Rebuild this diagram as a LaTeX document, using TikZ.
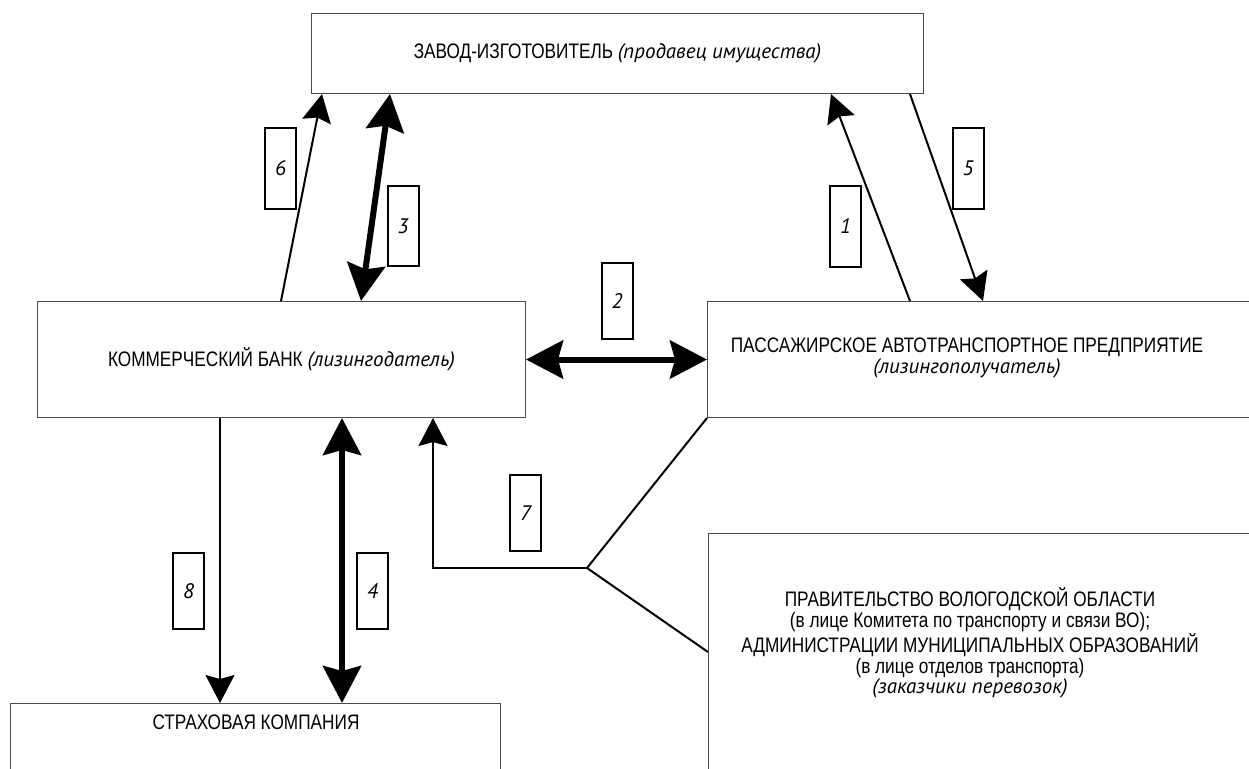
\documentclass[tikz,border=0pt]{standalone}
\usepackage{fontspec}
\setmainfont{Liberation Sans}[FakeStretch=0.82]
\newfontfamily\itfont{PT Sans}[FakeStretch=1.0]
\newcommand\itx[1]{{\itfont\itshape #1}}
\usetikzlibrary{arrows.meta,calc}
\tikzset{
  x=0.5pt, y=-0.5pt,
  box/.style={draw=black!70, line width=0.5pt, fill=white, inner sep=0pt, anchor=north west},
  numbox/.style={draw=black, line width=1pt, minimum width=15.5pt, inner sep=0pt, font=\itfont\itshape\fontsize{10.5}{12}\selectfont},
  lbl/.style={align=center, font=\fontsize{10.5}{10.25}\selectfont, inner sep=0pt},
  conthin/.style={line width=1pt, -{Stealth[length=14pt,width=14.5pt,inset=2pt]}},
  conthick/.style={line width=3pt, {Stealth[length=18.5pt,width=19pt,inset=2.5pt]}-{Stealth[length=18.5pt,width=19pt,inset=2.5pt]}},
  conline/.style={line width=1pt},
}
\begin{document}
\begin{tikzpicture}
\useasboundingbox (0,0) rectangle (1249,768);
\fill[white] (0,0) rectangle (1249,768);
\clip (0,0) rectangle (1249,768);
% boxes
\node[box, minimum width=306pt, minimum height=40pt, font=\fontsize{10.5}{10.25}\selectfont] (top) at (311,13) {ЗАВОД-ИЗГОТОВИТЕЛЬ \itx{(продавец имущества)}};
\node[box, minimum width=244pt, minimum height=58pt, font=\fontsize{10.5}{10.25}\selectfont] (bank) at (37,301) {КОММЕРЧЕСКИЙ БАНК \itx{(лизингодатель)}};
\node[box, minimum width=290pt, minimum height=58pt] (pap) at (707,301) {};
\node[box, minimum width=245pt, minimum height=60pt] (ins) at (10,703) {};
\node[box, minimum width=290pt, minimum height=150pt] (gov) at (708,533) {};
% labels of boxes that run past the edge
\node[lbl] (paptext) at (967,358) {ПАССАЖИРСКОЕ АВТОТРАНСПОРТНОЕ ПРЕДПРИЯТИЕ\\\itx{(лизингополучатель)}};
\node[lbl] (instext) at (256,722) {СТРАХОВАЯ КОМПАНИЯ};
\node[lbl] (govtext) at (970,643) {ПРАВИТЕЛЬСТВО ВОЛОГОДСКОЙ ОБЛАСТИ\\(в лице Комитета по транспорту и связи ВО);\\АДМИНИСТРАЦИИ МУНИЦИПАЛЬНЫХ ОБРАЗОВАНИЙ\\(в лице отделов транспорта)\\\itx{(заказчики перевозок)}};
% connectors
\draw[conthin] ($(bank.north west)+(244,0)$) -- ($(top.south west)+(11,0)$);
\draw[conthick] ($(bank.north west)+(324,0)$) -- ($(top.south west)+(79,0)$);
\draw[conthin] ($(pap.north west)+(203,0)$) -- ($(top.south west)+(520,0)$);
\draw[conthin] ($(top.south west)+(599,0)$) -- ($(pap.north west)+(276,0)$);
\draw[conthick] (bank.east) -- (pap.west);
\draw[conthin] ($(bank.south west)+(183,0)$) coordinate (a8) -- (a8 |- ins.north);
\draw[conthick] ($(bank.south west)+(305,0)$) coordinate (a4) -- (a4 |- ins.north);
\coordinate (j) at (587,568);
\draw[conline] (pap.south west) -- (j) -- ($(gov.north west)+(0,119)$);
\draw[conthin] (j) -| ($(bank.south west)+(396,0)$);
% number boxes
\node[numbox, minimum height=40.5pt] (n6) at (280.5,168.5) {6};
\node[numbox, minimum height=40pt] (n3) at (403,226) {3};
\node[numbox, minimum height=40.5pt] (n1) at (845.5,226.5) {1};
\node[numbox, minimum height=40.5pt] (n5) at (968,168) {5};
\node[numbox, minimum height=38pt] (n2) at (617,301) {2};
\node[numbox, minimum height=38pt] (n4) at (372.5,591) {4};
\node[numbox, minimum height=38pt] (n7) at (525.5,513) {7};
\node[numbox, minimum height=38pt] (n8) at (188.5,591) {8};
\end{tikzpicture}
\end{document}
